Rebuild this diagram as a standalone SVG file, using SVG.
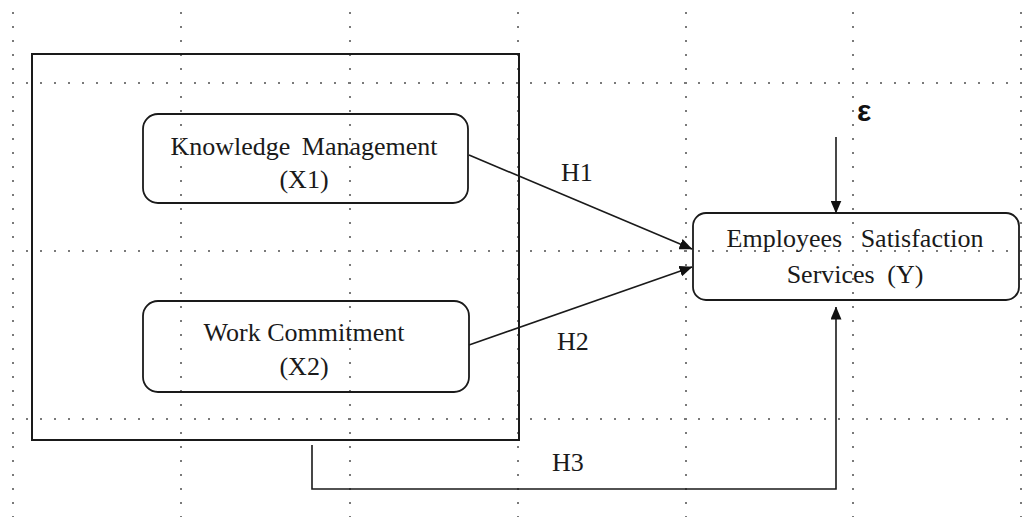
<svg xmlns="http://www.w3.org/2000/svg" width="1023" height="517" viewBox="0 0 1023 517">
  <style>
    .grid line { stroke: #7a7a7a; stroke-width: 2; stroke-dasharray: 2 12; }
    .frame { fill: none; stroke: #1a1a1a; stroke-width: 2; }
    .box { fill: none; stroke: #1a1a1a; stroke-width: 1.8; }
    .conn { fill: none; stroke: #1a1a1a; stroke-width: 1.6; }
    .lbl { font-family: "Liberation Serif", "Times New Roman", serif; font-size: 26px; fill: #1a1a1a; }
    .mid { text-anchor: middle; }
    .eps { font-family: "Liberation Sans", Arial, sans-serif; font-size: 30px; font-weight: bold; fill: #111; }
  </style>
  <defs>
    <marker id="arrow" viewBox="0 0 13 11" refX="12.5" refY="5.5" markerWidth="13" markerHeight="11" markerUnits="userSpaceOnUse" orient="auto">
      <path d="M0,0 L13,5.5 L0,11 Z" fill="#111"/>
    </marker>
  </defs>

  <rect width="1023" height="517" fill="#ffffff"/>

  <!-- dotted page grid -->
  <g id="grid" class="grid">
    <line x1="13" y1="12" x2="13" y2="517"/>
    <line x1="181" y1="12" x2="181" y2="517"/>
    <line x1="350" y1="12" x2="350" y2="517"/>
    <line x1="518" y1="12" x2="518" y2="517"/>
    <line x1="686" y1="12" x2="686" y2="517"/>
    <line x1="853" y1="12" x2="853" y2="517"/>
    <line x1="1021" y1="12" x2="1021" y2="517"/>
    <line x1="12" y1="83" x2="1023" y2="83"/>
    <line x1="12" y1="251" x2="1023" y2="251"/>
    <line x1="12" y1="419" x2="1023" y2="419"/>
  </g>

  <!-- grouping frame around the independent variables -->
  <g id="frame-x">
    <rect class="frame" x="32" y="54" width="487" height="386"/>
  </g>

  <g id="node-x1">
    <rect class="box" x="143" y="114" width="325" height="89" rx="15" ry="15"/>
    <text class="lbl mid" x="304" y="155" word-spacing="5">Knowledge Management</text>
    <text class="lbl mid" x="304" y="188">(X1)</text>
  </g>

  <g id="node-x2">
    <rect class="box" x="143" y="301" width="326" height="91" rx="15" ry="15"/>
    <text class="lbl mid" x="304" y="341">Work Commitment</text>
    <text class="lbl mid" x="304" y="375">(X2)</text>
  </g>

  <g id="node-y">
    <rect class="box" x="693" y="213" width="326" height="87" rx="13" ry="13"/>
    <text class="lbl mid" x="855" y="247" word-spacing="12">Employees Satisfaction</text>
    <text class="lbl mid" x="855" y="283" word-spacing="6">Services (Y)</text>
  </g>

  <g id="node-error">
    <text class="eps" x="857" y="121">ε</text>
  </g>

  <!-- hypothesis paths -->
  <g id="connectors">
    <line class="conn" x1="469" y1="155" x2="692" y2="249" marker-end="url(#arrow)"/>
    <line class="conn" x1="469" y1="345" x2="692" y2="267" marker-end="url(#arrow)"/>
    <line class="conn" x1="836" y1="137" x2="836" y2="213" marker-end="url(#arrow)"/>
    <polyline class="conn" points="312,445 312,489 836,489 836,307" marker-end="url(#arrow)"/>
    <text class="lbl" x="561" y="181">H1</text>
    <text class="lbl" x="557" y="350">H2</text>
    <text class="lbl" x="552" y="471">H3</text>
  </g>
</svg>
